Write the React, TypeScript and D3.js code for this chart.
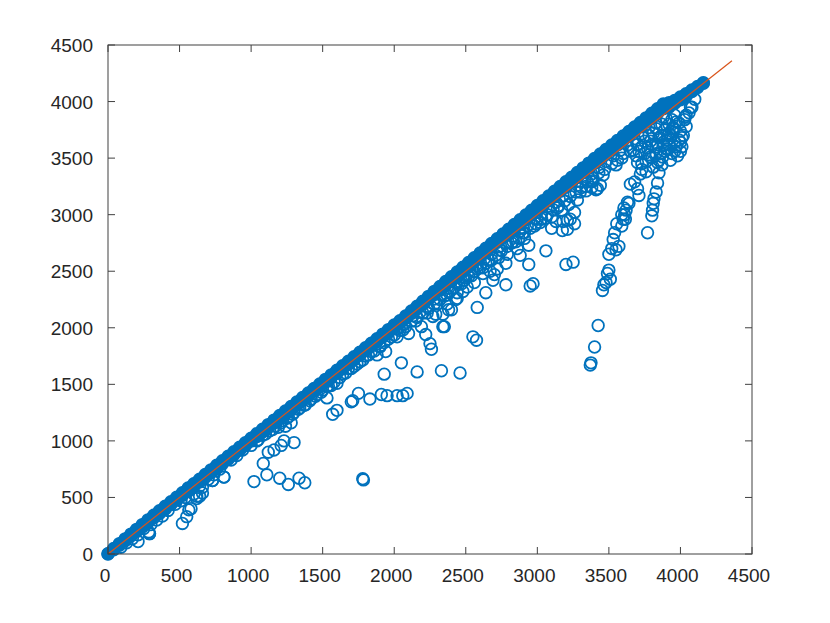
import React from "react";
import * as d3 from "d3";

const tickValues = [0, 500, 1000, 1500, 2000, 2500, 3000, 3500, 4000, 4500];
const lineEnds = [0, 4360];

const bandX = [0,40,80,120,160,200,240,280,320,360,400,440,480,520,560,600,640,680,720,760,800,840,880,920,960,1000,1040,1080,1120,1160,1200,1240,1280,1320,1360,1400,1440,1480,1520,1560,1600,1640,1680,1720,1760,1800,1840,1880,1920,1960,2000,2040,2080,2120,2160,2200,2240,2280,2320,2360,2400,2440,2480,2520,2560,2600,2640,2680,2720,2760,2800,2840,2880,2920,2960,3000,3040,3080,3120,3160,3200,3240,3280,3320,3360,3400,3440,3480,3520,3560,3600,3640,3680,3720,3760,3800,3840,3880,3920,3960,4000,4040,4080,4120,4160];
const bandUpper = [3,48,92,134,176,218,260,302,342,382,422,462,502,542,584,622,662,704,744,784,824,864,904,944,984,1024,1064,1104,1144,1184,1224,1264,1304,1344,1384,1424,1464,1504,1544,1584,1624,1664,1704,1744,1784,1824,1864,1904,1944,1984,2024,2062,2105,2148,2190,2234,2278,2322,2366,2410,2452,2494,2536,2578,2620,2662,2704,2746,2788,2830,2872,2914,2956,2998,3040,3082,3124,3166,3208,3250,3292,3332,3374,3414,3456,3496,3536,3576,3616,3656,3696,3736,3776,3816,3856,3896,3936,3978,3990,4010,4040,4070,4102,4134,4166];
const bandLower = [0,38,78,118,158,198,238,278,320,358,398,438,478,518,558,598,638,678,718,758,798,838,878,918,958,998,1038,1078,1118,1158,1198,1238,1278,1318,1358,1398,1438,1478,1518,1558,1598,1638,1678,1718,1758,1798,1838,1878,1918,1958,2000,2042,2084,2126,2168,2210,2252,2294,2336,2378,2412,2454,2498,2540,2584,2626,2670,2712,2756,2798,2830,2872,2914,2956,2998,3040,3082,3124,3166,3208,3245,3287,3329,3371,3412,3454,3496,3536,3576,3616,3656,3696,3736,3776,3816,3856,3896,3936,3950,3985,4015,4050,4088,4124,4162];

const closeX = [2020,2070,2130,2180,2230,2280,2330,2380,2430,2480,2530,2580,2630,2680,2730,2780,2830,2880,2930,2980,3030,3080,3130,3180,3230,3280,3330,3380,3430,3480,3530,3580,3630,3680,3730,3780,3830,3880];
const closeY = [1990,2030,2105,2140,2190,2255,2290,2350,2400,2450,2510,2545,2610,2650,2715,2750,2810,2855,2900,2965,3010,3060,3110,3165,3205,3260,3315,3360,3415,3470,3520,3570,3615,3670,3715,3770,3810,3860];

const nearX = [90,130,170,210,250,290,300,340,380,420,470,510,540,600,620,640,660,700,730,740,780,810,860,900,940,1000,1040,1080,1130,1170,1190,1220,1240,1260,1280,1300,1340,1380,1420,1460,1500,1530,1560,1600,1640,1680,1720,1760,1800,1840,1880,1900,1940,1980,2020,2060,2100,2150,2190,2230,2270,2300,2340,2370,2400,2440,2470,2500,2540,2580,2620,2660,2700,2740,2780,2820,2860,2900,2940,2980,3020,3060,3100,3140,3180,3220,3260,3300,3340,3380,3420,3460,3520,3560,3600,3650,3700,3740];
const nearY = [60,100,135,170,225,180,260,300,335,385,440,470,500,530,510,600,590,660,650,700,750,680,830,870,920,960,1000,1050,1090,1130,1120,1180,1130,1210,1160,1250,1290,1320,1370,1410,1450,1480,1490,1510,1590,1640,1660,1700,1750,1790,1760,1840,1790,1920,1920,1980,1950,2060,2010,2130,2100,2210,2120,2290,2160,2310,2390,2440,2460,2520,2480,2600,2470,2690,2570,2750,2700,2840,2730,2900,2930,2970,2880,3060,2940,3090,3020,3200,3250,3290,3230,3350,3450,3480,3540,3560,3620,3680];

const fringeX = [1050,1100,1150,1210,1250,1290,1330,1370,1410,1450,1490,1540,1580,1620,1660,1700,1740,1780,1820,1860,1900,1930,1960,2000,2040,2080,2120,2160,2200,2240,2280,2320,2350,2390,2420,2450,2490,2520,2560,2600,2640,2680,2710,2750,2790,2830,2870,2910,2950,2990,3030,3070,3110,3150,3190,3230,3270,3310,3350,3390,3430,3470,3550,3590,3670,3750,3790,3830,3870,3910,3950,3990,4030,4070,2290,2370,2430,2510,2560,2620,2670,2730,2790,2850,2910,3100,3170,3280,3340,3730,3780,3810,3850,3890,3930,3970,4010,3760,3800,3840,3880,3920,3960,4000,4040,3830,3870,3910,3950];
const fringeY = [1010,1060,1100,1160,1200,1235,1280,1315,1355,1395,1430,1485,1520,1560,1600,1640,1680,1715,1760,1795,1830,1870,1900,1935,1975,2010,2060,2090,2130,2170,2210,2250,2280,2320,2355,2385,2420,2455,2495,2530,2570,2600,2640,2680,2720,2760,2790,2840,2880,2920,2960,3000,3045,3080,3120,3160,3200,3240,3290,3320,3370,3400,3440,3500,3570,3540,3650,3600,3700,3660,3730,3810,3840,3950,2120,2210,2250,2360,2400,2530,2500,2620,2650,2760,2790,2980,3040,3130,3210,3450,3530,3420,3480,3560,3480,3600,3680,3380,3500,3620,3640,3720,3560,3640,3880,3540,3700,3580,3770];

const outlierX = [210,290,285,520,550,565,580,620,640,660,730,810,1020,1085,1110,1120,1160,1200,1210,1230,1260,1300,1335,1375,1780,1785,1530,1570,1600,1700,1710,1750,1830,1910,1930,1950,2020,2050,2060,2090,2160,2220,2250,2260,2330,2340,2350,2460,2550,2575,2480,2580,2640,2780,2950,2970,2940,3060,3200,3250,3175,3210,3230,3260,3380,3390,3410,3440,3130,3210,2380,2440,2690,2720,2880,2900,3000];
const outlierY = [110,180,195,270,330,390,400,490,510,540,650,680,640,800,700,900,920,670,960,1000,615,985,670,630,665,655,1380,1235,1270,1345,1355,1420,1370,1410,1590,1400,1400,1690,1400,1420,1610,1940,1860,1810,1620,2010,2010,1600,1920,1890,2320,2180,2310,2380,2370,2390,2560,2680,2560,2580,2860,2870,2960,2920,3240,3300,3220,3260,2940,2950,2160,2260,2420,2520,2640,2880,2960];

const plumeAX = [3370,3375,3400,3425,3455,3465,3480,3490,3500,3510,3500,3520,3530,3540,3555,3550,3570,3590,3600,3610,3620,3640,3590,3605,3615,3630,3650,3680,3700,3710,3720,3730,3700,3690,3710,3730,3750,3760,3770,3790,3800,3780,3810,3830,3850,3870,3890,3900,3860,3840,3880,3910,3920];
const plumeAY = [1670,1690,1830,2020,2330,2380,2400,2480,2510,2430,2650,2700,2780,2840,2920,2690,2720,2900,2960,3000,3040,3100,3000,3060,2960,3110,3270,3290,3230,3170,3360,3400,3460,3520,3560,3600,3650,3470,3590,3510,3620,3700,3720,3760,3680,3800,3750,3850,3540,3460,3620,3700,3800];

const plumeBX = [3770,3800,3805,3810,3815,3830,3840,3850,3875,3870,3900,3920,3940,3960,3980,4000,3990,4010,4020,4040,3950,3930,3970,4030,4060,4080,4100,4000,3960,3940];
const plumeBY = [2840,2990,3040,3100,3140,3200,3280,3370,3510,3440,3580,3620,3540,3640,3520,3560,3660,3600,3700,3780,3760,3700,3820,3860,3900,3950,4020,3740,3880,3840];

const W = 830, H = 623;
const M = { left: 108, right: 752, top: 45, bottom: 554 };

export default function App() {
  const x = d3.scaleLinear().domain([0, 4500]).range([M.left, M.right]);
  const y = d3.scaleLinear().domain([0, 4500]).range([M.bottom, M.top]);
  const pts: [number, number][] = [];
  bandX.forEach((v, i) => {
    pts.push([v, bandUpper[i]], [v, bandLower[i]]);
  });
  closeX.forEach((v, i) => pts.push([v, closeY[i]]));
  nearX.forEach((v, i) => pts.push([v, nearY[i]]));
  fringeX.forEach((v, i) => pts.push([v, fringeY[i]]));
  outlierX.forEach((v, i) => pts.push([v, outlierY[i]]));
  plumeAX.forEach((v, i) => pts.push([v, plumeAY[i]]));
  plumeBX.forEach((v, i) => pts.push([v, plumeBY[i]]));
  const ink = "#404040";
  const blue = "#0072BD";
  const font = "'Liberation Sans', Arial, sans-serif";
  const line = d3.line<number>().x((d) => x(d)).y((d) => y(d));
  const fill = d3.area<number>()
    .x((d) => x(d))
    .y0((_, i) => y(bandLower[i]))
    .y1((_, i) => y(bandUpper[i]));
  return (
    <svg width={W} height={H} style={{ position: "absolute", left: 0, top: 0, background: "#fff" }}>
      {pts.map((p, i) => (
        <circle key={i} cx={x(p[0])} cy={y(p[1])} r={5.8} fill="none" stroke={blue} strokeWidth={1.8} />
      ))}
      <path d={fill(bandX) ?? ""} fill={blue} stroke={blue} strokeWidth={11} strokeLinejoin="round" />
      <path d={line(lineEnds) ?? ""} fill="none" stroke="#D95319" strokeWidth={1.2} />
      <rect x={M.left} y={M.top} width={M.right - M.left} height={M.bottom - M.top} fill="none" stroke={ink} strokeWidth={1} />
      {tickValues.map((t) => (
        <g key={t} stroke={ink} strokeWidth={1}>
          <line x1={x(t)} x2={x(t)} y1={M.bottom} y2={M.bottom - 7} />
          <line x1={x(t)} x2={x(t)} y1={M.top} y2={M.top + 7} />
          <line y1={y(t)} y2={y(t)} x1={M.left} x2={M.left + 7} />
          <line y1={y(t)} y2={y(t)} x1={M.right} x2={M.right - 7} />
        </g>
      ))}
      {tickValues.map((t) => (
        <text key={"x" + t} x={x(t) - 3} y={M.bottom + 28} textAnchor="middle" fontFamily={font} fontSize={19} fill="#262626">{t}</text>
      ))}
      {tickValues.map((t) => (
        <text key={"y" + t} x={M.left - 15} y={y(t) + 7} textAnchor="end" fontFamily={font} fontSize={19} fill="#262626">{t}</text>
      ))}
    </svg>
  );
}
